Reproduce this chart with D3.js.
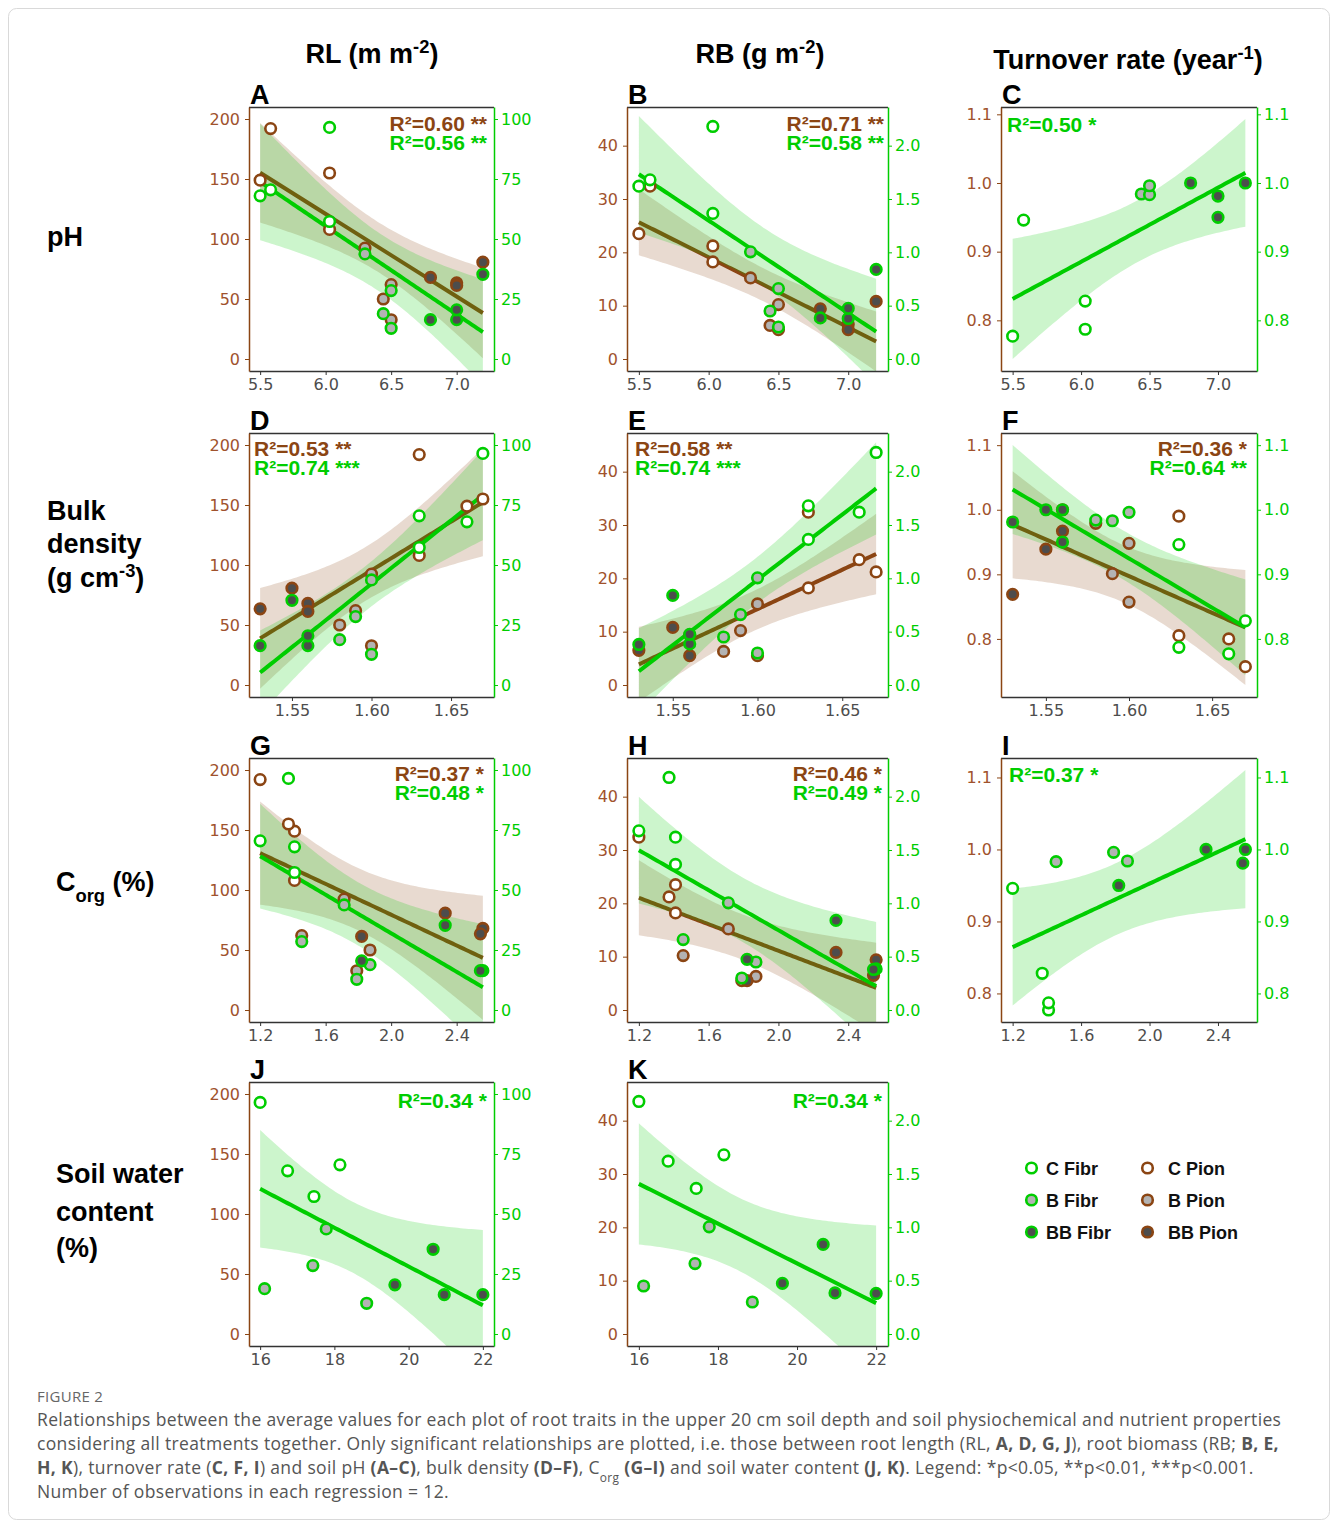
<!DOCTYPE html>
<html>
<head>
<meta charset="utf-8">
<script src="https://cdn.jsdelivr.net/npm/d3@7"></script>
<style>
  body { margin: 0; background: #fff; }
  svg text { font-family: "DejaVu Sans", sans-serif; }
</style>
</head>
<body>
<svg id="fig" width="1333" height="1525"></svg>
<script>
// ---- Plot-level data: 12 plots (4 per treatment), same plots for both species ----
const plotTreatment = ["C", "C", "C", "C", "B", "B", "B", "B", "BB", "BB", "BB", "BB"];

// soil properties per plot
const soilPH      = [5.50, 5.58, 6.03, 6.03, 6.30, 6.44, 6.50, 6.50, 6.80, 7.00, 7.00, 7.20];
const bulkDensity = [1.66, 1.63, 1.67, 1.63, 1.60, 1.58, 1.59, 1.60, 1.56, 1.53, 1.56, 1.55];
const soilCorg    = [1.41, 1.20, 1.373, 1.41, 1.713, 1.871, 1.454, 1.79, 2.56, 2.545, 1.82, 2.33];
const soilWater   = [16.74, 18.15, 16.0, 17.45, 17.78, 16.12, 17.42, 18.87, 20.96, 22.0, 19.63, 20.66];

// root length (m m-2)
const rlPion = [149, 192, 155, 108, 92.4, 50, 62, 32.7, 68, 63.5, 61.3, 80.7];
const rlFibr = [68, 70.5, 96.5, 57.3, 43.8, 18.9, 28.5, 12.8, 16.4, 16.4, 20.5, 35.3];

// root biomass (g m-2)
const rbPion = [23.5, 32.4, 21.2, 18.2, 15.2, 6.3, 10.2, 5.5, 9.4, 6.5, 5.5, 10.8];
const rbFibr = [1.62, 1.68, 2.18, 1.365, 1.005, 0.45, 0.66, 0.30, 0.385, 0.38, 0.475, 0.84];

// turnover rate (year-1); one Fibr plot without a value
const turnoverPion = [0.800, 0.990, 0.757, 0.805, 0.948, 0.979, 0.901, 0.857, 1.000, 0.869, 0.967, 0.939];
const turnoverFibr = [0.777, 0.946, 0.828, 0.787, null, 0.984, 0.983, 0.996, 1.000, 0.981, 0.950, 1.000];

// tick labels
const ticksPH = [5.5, 6.0, 6.5, 7.0];
const ticksBD = [1.55, 1.60, 1.65];
const ticksCorg = [1.2, 1.6, 2.0, 2.4];
const ticksSWC = [16, 18, 20, 22];
const ticksRLleft = [0, 50, 100, 150, 200];
const ticksRLright = [0, 25, 50, 75, 100];
const ticksRBleft = [0, 10, 20, 30, 40];
const ticksRBright = [0.0, 0.5, 1.0, 1.5, 2.0];
const ticksTO = [0.8, 0.9, 1.0, 1.1];

// ---- appearance ----
const BROWN = "#8B4513", BROWN_TXT = "#A0522D", GREEN = "#00CD00";
const speciesColor = { Pion: BROWN, Fibr: GREEN };
const treatmentFill = { C: "#ffffff", B: "#b3b3b3", BB: "#4d4d4d" };
const BOLD = "'Liberation Sans', Arial, sans-serif";

const soils = {
  pH:   { values: soilPH,      ticks: ticksPH,   fmt: d3.format(".1f") },
  BD:   { values: bulkDensity, ticks: ticksBD,   fmt: d3.format(".2f") },
  Corg: { values: soilCorg,    ticks: ticksCorg, fmt: d3.format(".1f") },
  SWC:  { values: soilWater,   ticks: ticksSWC,  fmt: d3.format("d") }
};
const traits = {
  RL: { Pion: rlPion, Fibr: rlFibr, factor: 2, ylim: [0, 200],
        left: ticksRLleft, right: ticksRLright, lfmt: d3.format("d"), rfmt: d3.format("d") },
  RB: { Pion: rbPion, Fibr: rbFibr, factor: 20, ylim: [0, 45],
        left: ticksRBleft, right: ticksRBright, lfmt: d3.format("d"), rfmt: d3.format(".1f") },
  TO: { Pion: turnoverPion, Fibr: turnoverFibr, factor: 1, ylim: null,
        left: ticksTO, right: ticksTO, lfmt: d3.format(".1f"), rfmt: d3.format(".1f") }
};

const panels = [
  { letter: "A", row: 0, col: 0, soil: "pH", trait: "RL", fits: [["Pion", "R²=0.60 **"], ["Fibr", "R²=0.56 **"]], lab: ["end", -7, 24] },
  { letter: "B", row: 0, col: 1, soil: "pH", trait: "RB", fits: [["Pion", "R²=0.71 **"], ["Fibr", "R²=0.58 **"]], lab: ["end", -4, 24] },
  { letter: "C", row: 0, col: 2, soil: "pH", trait: "TO", fits: [["Fibr", "R²=0.50 *"]], lab: ["start", 6, 25] },
  { letter: "D", row: 1, col: 0, soil: "BD", trait: "RL", fits: [["Pion", "R²=0.53 **"], ["Fibr", "R²=0.74 ***"]], lab: ["start", 5, 23] },
  { letter: "E", row: 1, col: 1, soil: "BD", trait: "RB", fits: [["Pion", "R²=0.58 **"], ["Fibr", "R²=0.74 ***"]], lab: ["start", 8, 23] },
  { letter: "F", row: 1, col: 2, soil: "BD", trait: "TO", fits: [["Pion", "R²=0.36 *"], ["Fibr", "R²=0.64 **"]], lab: ["end", -10, 23] },
  { letter: "G", row: 2, col: 0, soil: "Corg", trait: "RL", fits: [["Pion", "R²=0.37 *"], ["Fibr", "R²=0.48 *"]], lab: ["end", -10, 23] },
  { letter: "H", row: 2, col: 1, soil: "Corg", trait: "RB", fits: [["Pion", "R²=0.46 *"], ["Fibr", "R²=0.49 *"]], lab: ["end", -6, 23] },
  { letter: "I", row: 2, col: 2, soil: "Corg", trait: "TO", fits: [["Fibr", "R²=0.37 *"]], lab: ["start", 8, 24] },
  { letter: "J", row: 3, col: 0, soil: "SWC", trait: "RL", fits: [["Fibr", "R²=0.34 *"]], lab: ["end", -7, 26] },
  { letter: "K", row: 3, col: 1, soil: "SWC", trait: "RB", fits: [["Fibr", "R²=0.34 *"]], lab: ["end", -6, 26] }
];

const colLeft = [249, 627, 1001], colWidth = [245, 261, 256];
const rowTop = [107, 433, 758, 1082], panelH = 264;

// two-sided 95% t quantiles by degrees of freedom
const T975 = { 8: 2.306, 9: 2.262, 10: 2.228, 11: 2.201 };

function linFit(pts) {
  const n = pts.length;
  const xbar = d3.mean(pts, d => d.x), ybar = d3.mean(pts, d => d.y);
  let sxx = 0, sxy = 0;
  pts.forEach(d => { sxx += (d.x - xbar) ** 2; sxy += (d.x - xbar) * (d.y - ybar); });
  const b = sxy / sxx, a = ybar - b * xbar;
  const sse = d3.sum(pts, d => (d.y - a - b * d.x) ** 2);
  return { n, xbar, sxx, a, b, s: Math.sqrt(sse / (n - 2)), t: T975[n - 2] };
}

const svg = d3.select("#fig");
svg.append("rect").attr("x", 8.5).attr("y", 8.5).attr("width", 1321).attr("height", 1511)
  .attr("rx", 8).attr("fill", "#fff").attr("stroke", "#d9d9d9");

panels.forEach((p, pi) => {
  const w = colWidth[p.col], h = panelH;
  const g = svg.append("g").attr("transform", `translate(${colLeft[p.col]},${rowTop[p.row]})`);
  const soil = soils[p.soil], trait = traits[p.trait];

  const series = p.fits.map(([sp, label]) => {
    const scale = sp === "Fibr" ? trait.factor : 1;
    const pts = soil.values.map((xv, i) => ({ x: xv, v: trait[sp][i], t: plotTreatment[i] }))
      .filter(d => d.v != null).map(d => ({ x: d.x, y: d.v * scale, t: d.t }));
    const fit = linFit(pts);
    const [x0, x1] = d3.extent(pts, d => d.x);
    const band = d3.range(81).map(k => {
      const xv = x0 + (x1 - x0) * k / 80;
      const yh = fit.a + fit.b * xv;
      const se = fit.s * Math.sqrt(1 / fit.n + (xv - fit.xbar) ** 2 / fit.sxx);
      return { x: xv, y: yh, lo: yh - fit.t * se, hi: yh + fit.t * se };
    });
    return { sp, label, pts, band };
  });

  const allX = series.flatMap(s => s.pts.map(d => d.x));
  const [xmin, xmax] = d3.extent(allX);
  const xp = (xmax - xmin) * 0.05;
  const x = d3.scaleLinear().domain([xmin - xp, xmax + xp]).range([0, w]);

  let ydom;
  if (trait.ylim) {
    const yp = (trait.ylim[1] - trait.ylim[0]) * 0.05;
    ydom = [trait.ylim[0] - yp, trait.ylim[1] + yp];
  } else {
    const vals = series.flatMap(s => s.pts.map(d => d.y).concat(s.band.map(b => b.lo), s.band.map(b => b.hi)));
    const [a, b] = d3.extent(vals), yp = (b - a) * 0.05;
    ydom = [a - yp, b + yp];
  }
  const y = d3.scaleLinear().domain(ydom).range([h, 0]);
  const yR = d3.scaleLinear().domain(ydom.map(v => v / trait.factor)).range([h, 0]);

  // clip region for smooths
  const clipId = "clip" + pi;
  g.append("clipPath").attr("id", clipId).append("rect").attr("width", w).attr("height", h);
  const smooth = g.append("g").attr("clip-path", `url(#${clipId})`);

  series.forEach(s => {
    const col = speciesColor[s.sp];
    smooth.append("path").datum(s.band)
      .attr("d", d3.area().x(d => x(d.x)).y0(d => y(d.lo)).y1(d => y(d.hi)))
      .attr("fill", col).attr("fill-opacity", 0.2);
    smooth.append("path").datum(s.band)
      .attr("d", d3.line().x(d => x(d.x)).y(d => y(d.y)))
      .attr("fill", "none").attr("stroke", col).attr("stroke-width", 4);
  });

  series.forEach(s => {
    g.append("g").selectAll("circle").data(s.pts).join("circle")
      .attr("cx", d => x(d.x)).attr("cy", d => y(d.y)).attr("r", 5.3)
      .attr("fill", d => treatmentFill[d.t])
      .attr("stroke", speciesColor[s.sp]).attr("stroke-width", 2.6);
  });

  // frame: top and bottom dark, left brown, right green
  g.append("line").attr("x1", 0).attr("x2", w).attr("y1", 0.5).attr("y2", 0.5)
    .attr("stroke", "#333").attr("stroke-width", 1.3);

  const ax = g.append("g").attr("transform", `translate(0,${h})`)
    .call(d3.axisBottom(x).tickValues(soil.ticks).tickFormat(soil.fmt).tickSize(4).tickPadding(4).tickSizeOuter(0));
  ax.select(".domain").attr("stroke", "#333").attr("stroke-width", 1.3);
  ax.selectAll(".tick line").attr("stroke", "#333");
  ax.selectAll("text").attr("fill", "#4d4d4d").attr("font-size", 16).style("font-family", "'DejaVu Sans', sans-serif");

  const al = g.append("g")
    .call(d3.axisLeft(y).tickValues(trait.left).tickFormat(trait.lfmt).tickSize(4).tickPadding(5).tickSizeOuter(0));
  al.select(".domain").attr("stroke", BROWN).attr("stroke-width", 1.5);
  al.selectAll(".tick line").attr("stroke", BROWN);
  al.selectAll("text").attr("fill", BROWN_TXT).attr("font-size", 16).style("font-family", "'DejaVu Sans', sans-serif");

  const ar = g.append("g").attr("transform", `translate(${w},0)`)
    .call(d3.axisRight(yR).tickValues(trait.right).tickFormat(trait.rfmt).tickSize(4).tickPadding(3).tickSizeOuter(0));
  ar.select(".domain").attr("stroke", GREEN).attr("stroke-width", 1.5);
  ar.selectAll(".tick line").attr("stroke", GREEN);
  ar.selectAll("text").attr("fill", GREEN).attr("font-size", 16).style("font-family", "'DejaVu Sans', sans-serif");

  // R² annotations
  const [anchor, dx, dy] = p.lab;
  const lx = anchor === "end" ? w + dx : dx;
  series.forEach((s, k) => {
    g.append("text").attr("x", lx).attr("y", dy + k * 19)
      .attr("text-anchor", anchor).attr("fill", speciesColor[s.sp])
      .attr("font-size", 21).attr("font-weight", "bold").style("font-family", BOLD)
      .text(s.label);
  });

  // panel letter
  g.append("text").attr("x", 1).attr("y", -3).attr("font-size", 27).attr("font-weight", "bold")
    .style("font-family", BOLD).attr("fill", "#000").text(p.letter);
});

// ---- rich text helper (superscripts / subscripts / bold) ----
function rich(sel, parts) {
  parts.forEach(pt => {
    const seg = typeof pt === "string" ? { t: pt } : pt;
    const ts = sel.append("tspan").text(seg.t);
    if (seg.sup) ts.attr("baseline-shift", "super").attr("font-size", "68%");
    if (seg.sub) ts.attr("baseline-shift", "sub").attr("font-size", "68%");
    if (seg.b) ts.attr("font-weight", "bold");
  });
  return sel;
}

// column headers
const headers = [
  { x: 372, y: 63, parts: ["RL (m m", { t: "-2", sup: true }, ")"] },
  { x: 760, y: 63, parts: ["RB (g m", { t: "-2", sup: true }, ")"] },
  { x: 1128, y: 69, parts: ["Turnover rate (year", { t: "-1", sup: true }, ")"] }
];
headers.forEach(hd => {
  rich(svg.append("text").attr("x", hd.x).attr("y", hd.y).attr("text-anchor", "middle")
    .attr("font-size", 27).attr("font-weight", "bold").style("font-family", BOLD).attr("fill", "#000"), hd.parts);
});

// row headers
const rowLabels = [
  { x: 47, y: 246, parts: ["pH"] },
  { x: 47, y: 520, parts: ["Bulk"] },
  { x: 47, y: 553, parts: ["density"] },
  { x: 47, y: 587, parts: ["(g cm", { t: "-3", sup: true }, ")"] },
  { x: 56, y: 891, parts: ["C", { t: "org", sub: true }, " (%)"] },
  { x: 56, y: 1183, parts: ["Soil water"] },
  { x: 56, y: 1221, parts: ["content"] },
  { x: 56, y: 1257, parts: ["(%)"] }
];
rowLabels.forEach(r => {
  rich(svg.append("text").attr("x", r.x).attr("y", r.y).attr("font-size", 27)
    .attr("font-weight", "bold").style("font-family", BOLD).attr("fill", "#000"), r.parts);
});

// legend
const legendItems = [
  ["C Fibr", "C", "Fibr"], ["C Pion", "C", "Pion"],
  ["B Fibr", "B", "Fibr"], ["B Pion", "B", "Pion"],
  ["BB Fibr", "BB", "Fibr"], ["BB Pion", "BB", "Pion"]
];
const legCircleX = [1031.5, 1147.5], legTextX = [1046, 1168], legY = [1168, 1200, 1232];
legendItems.forEach((it, i) => {
  const c = i % 2, r = Math.floor(i / 2);
  svg.append("circle").attr("cx", legCircleX[c]).attr("cy", legY[r]).attr("r", 5.3)
    .attr("fill", treatmentFill[it[1]]).attr("stroke", speciesColor[it[2]]).attr("stroke-width", 2.6);
  svg.append("text").attr("x", legTextX[c]).attr("y", legY[r] + 6.5).attr("font-size", 18)
    .attr("font-weight", "bold").style("font-family", BOLD).attr("fill", "#111").text(it[0]);
});

// caption
svg.append("text").attr("x", 37).attr("y", 1402).attr("font-size", 15).attr("fill", "#666")
  .attr("letter-spacing", 0.3).style("font-family", "'Open Sans', sans-serif").text("FIGURE 2");
const captionLines = [
  ["Relationships between the average values for each plot of root traits in the upper 20 cm soil depth and soil physiochemical and nutrient properties"],
  ["considering all treatments together. Only significant relationships are plotted, i.e. those between root length (RL, ",
    { t: "A, D, G, J", b: true }, "), root biomass (RB; ", { t: "B, E,", b: true }],
  [{ t: "H, K", b: true }, "), turnover rate (", { t: "C, F, I", b: true }, ") and soil pH ", { t: "(A–C)", b: true },
    ", bulk density ", { t: "(D–F)", b: true }, ", C", { t: "org", sub: true }, " ", { t: "(G–I)", b: true },
    " and soil water content ", { t: "(J, K)", b: true }, ". Legend: *p<0.05, **p<0.01, ***p<0.001."],
  ["Number of observations in each regression = 12."]
];
captionLines.forEach((ln, i) => {
  rich(svg.append("text").attr("x", 37).attr("y", 1426 + i * 24).attr("font-size", 17.5)
    .attr("letter-spacing", 0.35).attr("fill", "#555").style("font-family", "'Open Sans', sans-serif"), ln);
});
</script>
</body>
</html>
